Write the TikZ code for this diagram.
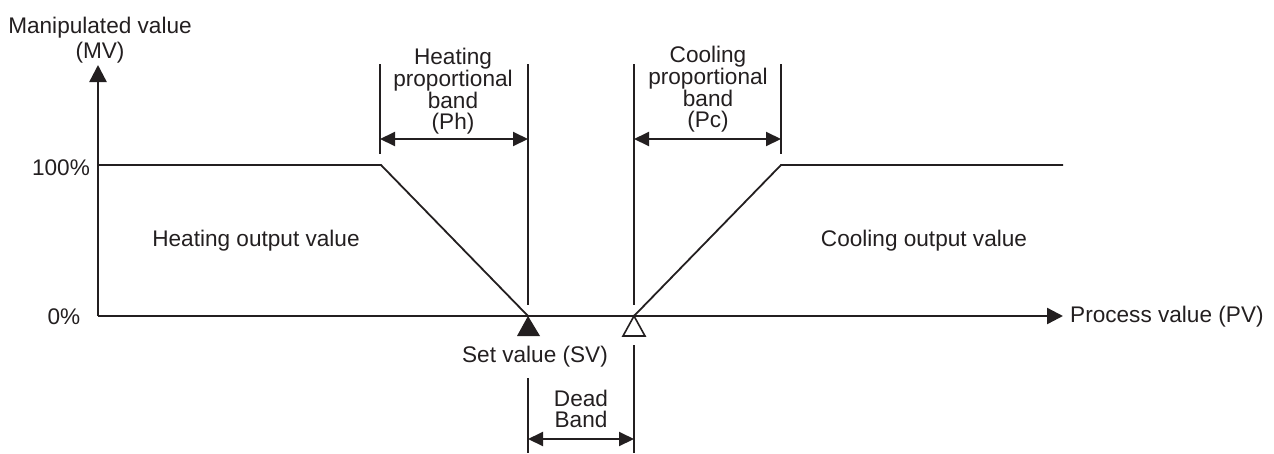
\documentclass[tikz,border=0pt]{standalone}
\usepackage{fontspec}
\setmainfont{Liberation Sans}
\usetikzlibrary{arrows.meta}
\definecolor{ink}{RGB}{35,31,32}
\begin{document}
\begin{tikzpicture}[x=1pt,y=-1pt,
  lbl/.style={inner sep=0pt, text=ink, font=\fontsize{22.6}{20.4}\selectfont, align=center},
  axisline/.style={draw=ink, line width=2.4pt},
  curveline/.style={draw=ink, line width=1.8pt},
  guide/.style={draw=ink, line width=2.2pt},
  dimarrow/.style={draw=ink, line width=2pt, {Triangle[length=15pt,width=14pt]}-{Triangle[length=15pt,width=14pt]}},
]
\useasboundingbox (0,0) rectangle (1274,453);
% key points
\coordinate (O) at (98,316);
\coordinate (Ytip) at (98,65);
\coordinate (Xtip) at (1063,316);
\coordinate (H100) at (98,165);
\coordinate (Hk) at (381,165);
\coordinate (SV) at (528,316);
\coordinate (DB) at (634,316);
\coordinate (Ck) at (781,165);
\coordinate (Cend) at (1063,165);
% guide line ends
\coordinate (g1t) at (380,64);  \coordinate (g1b) at (380,154);
\coordinate (g2t) at (528,64);  \coordinate (g2b) at (528,305);
\coordinate (g3t) at (634,64);  \coordinate (g3b) at (634,305);
\coordinate (g4t) at (781,64);  \coordinate (g4b) at (781,154);
\coordinate (g5t) at (528,378); \coordinate (g5b) at (528,453);
\coordinate (g6t) at (634,345); \coordinate (g6b) at (634,453);
\coordinate (a1l) at (380,139); \coordinate (a1r) at (528,139);
\coordinate (a2l) at (634,139); \coordinate (a2r) at (781,139);
\coordinate (a3l) at (528,439); \coordinate (a3r) at (634,439);
% axes
\draw[axisline, -{Triangle[length=17pt,width=17pt]}] (O) -- (Ytip);
\draw[axisline, -{Triangle[length=16pt,width=16pt]}] (O) -- (Xtip);
% output curves
\draw[curveline] (H100) -- (Hk) -- (SV);
\draw[curveline] (DB) -- (Ck) -- (Cend);
% guides
\foreach \a/\b in {g1t/g1b,g2t/g2b,g3t/g3b,g4t/g4b,g5t/g5b,g6t/g6b}
  \draw[guide] (\a) -- (\b);
% dimension arrows
\draw[dimarrow] (a1l) -- (a1r);
\draw[dimarrow] (a2l) -- (a2r);
\draw[dimarrow] (a3l) -- (a3r);
% markers
\fill[ink] (SV) -- (517,336) -- (540,336) -- cycle;
\draw[ink, line width=1.6pt, fill=white, line join=miter] (DB) -- (623,336) -- (645,336) -- cycle;
% labels
\node[lbl] (mv1) at (100,28) {Manipulated value};
\node[lbl] (mv2) at (100,53) {(MV)};
\node[lbl] (p100) at (61,168) {100\%};
\node[lbl] (p0) at (64,317) {0\%};
\node[lbl] (hout) at (256,241) {Heating output value};
\node[lbl] (cout) at (924,241) {Cooling output value};
\node[lbl, anchor=west] (pv) at (1070,317) {Process value (PV)};
\node[lbl] (svl) at (535,357) {Set value (SV)};
\node[lbl] (hb) at (453,91) {Heating\\proportional\\band\\(Ph)};
\node[lbl] (cb) at (708,89) {Cooling\\proportional\\band\\(Pc)};
\node[lbl] (dbl) at (581,409) {Dead\\Band};
\end{tikzpicture}
\end{document}
